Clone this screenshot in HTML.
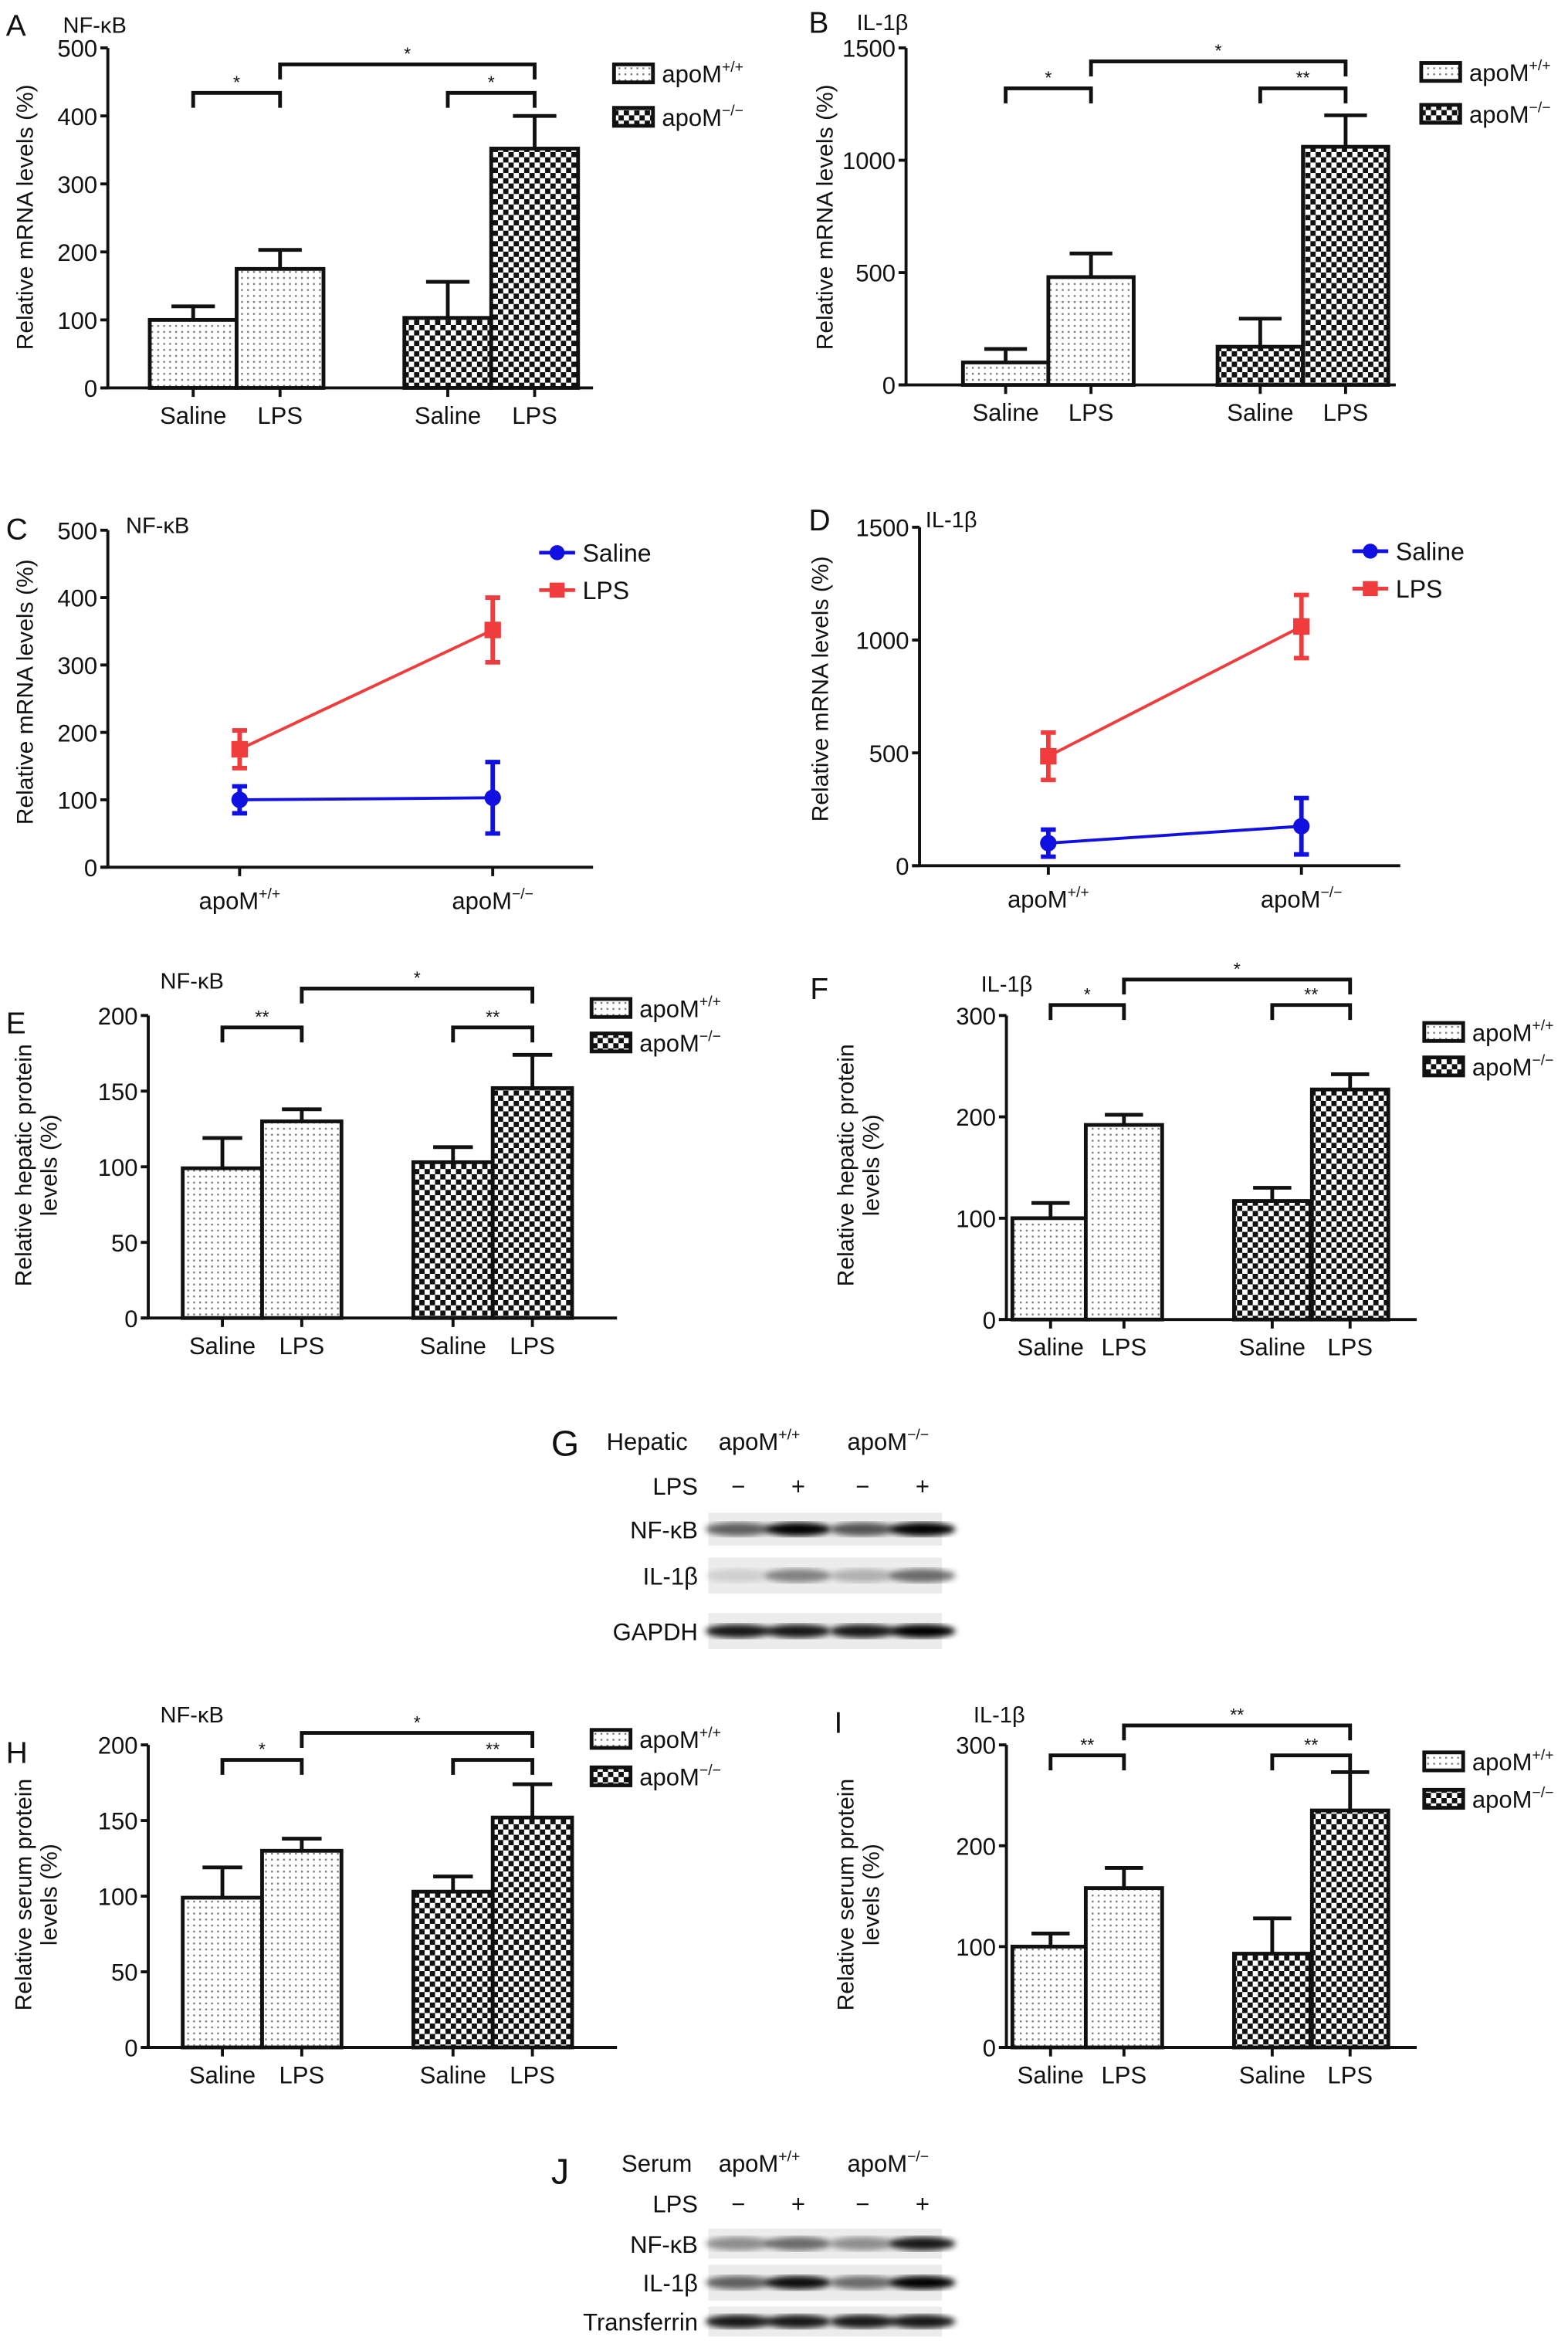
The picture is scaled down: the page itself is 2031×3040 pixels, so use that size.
<!DOCTYPE html>
<html><head><meta charset="utf-8">
<style>
html,body{margin:0;padding:0;background:#fff;}
svg{display:block;}
text{font-family:"Liberation Sans",sans-serif;fill:#111;}
</style></head>
<body>
<svg id="fig" xmlns="http://www.w3.org/2000/svg" width="2031" height="3040" viewBox="0 0 1047 1567" preserveAspectRatio="none">
<defs>
<pattern id="dots" width="4" height="4" patternUnits="userSpaceOnUse"><rect width="4" height="4" fill="#fff"/><rect x="1" y="1" width="1.2" height="1.2" fill="#777"/></pattern>
<pattern id="check" width="7" height="7" patternUnits="userSpaceOnUse"><rect width="7" height="7" fill="#fff"/><rect width="3.5" height="3.5" fill="#111"/><rect x="3.5" y="3.5" width="3.5" height="3.5" fill="#111"/></pattern>
<filter id="blur"><feGaussianBlur stdDeviation="2"/></filter>
</defs>
</svg>
<script>
// ---- data ----
const barCats = ['Saline','LPS','Saline','LPS'];
const valsA = [100,175,103,352]; const errA = [20,28,53,48];
const valsB = [100,480,170,1060]; const errB = [60,105,125,140];
const valsE = [99,130,103,152]; const errE = [20,8,10,22];
const valsF = [100,192,117,227]; const errF = [15,10,13,15];
const valsH = [99,130,103,152]; const errH = [20,8,10,22];
const valsI = [100,158,93,235]; const errI = [13,20,35,38];
const ticksA = [0,100,200,300,400,500];
const ticksB = [0,500,1000,1500];
const ticksE = [0,50,100,150,200];
const ticksF = [0,100,200,300];
const lineCats = ['apoM+/+','apoM−/−'];
const salineC = [100,103]; const salineCErr = [20,53];
const lpsC = [175,352]; const lpsCErr = [28,48];
const salineD = [100,175]; const salineDErr = [60,125];
const lpsD = [485,1060]; const lpsDErr = [105,140];

const NS='http://www.w3.org/2000/svg';
const svg=document.getElementById('fig');
function mk(tag,attrs,parent){const e=document.createElementNS(NS,tag);for(const k in attrs)e.setAttribute(k,attrs[k]);(parent||svg).appendChild(e);return e;}
function txt(x,y,s,size,anchor,parent,extra){const t=mk('text',Object.assign({x:x,y:y,'font-size':size,'text-anchor':anchor||'start'},extra||{}),parent);t.innerHTML=s;return t;}
function sup(base,s){return base+'<tspan dy="-7" font-size="10">'+s+'</tspan>';}

function yAxis(g,c,ticks){
  const sc=v=>c.y0-(v-ticks[0])/(ticks[ticks.length-1]-ticks[0])*(c.y0-c.yTop);
  const ax=mk('line',{x1:c.ax,y1:c.yTop,x2:c.ax,y2:c.y0,stroke:'#111','stroke-width':2},g);
  
  
  const xa=mk('line',{x1:c.ax-5,y1:c.y0,x2:c.xEnd,y2:c.y0,stroke:'#111','stroke-width':2},g);
  
  
  ticks.forEach(v=>{
    mk('line',{x1:c.ax-5,y1:sc(v),x2:c.ax,y2:sc(v),stroke:'#111','stroke-width':2},g);
    const t=txt(c.ax-7,sc(v)+6,String(v),16,'end',g);
    
    
  });
  return sc;
}
function ylabel(g,x,y,lines){
  const t=mk('text',{transform:'translate('+x+','+y+') rotate(-90)','font-size':15.5,'text-anchor':'middle'},g);
  lines.forEach((l,i)=>{const s=mk('tspan',{x:0,dy:i?17:(lines.length>1?-3:0)},t);s.textContent=l;});
  
  
}
function bracket(g,x1,x2,y,star,drop){
  mk('path',{d:'M'+x1+','+(y+drop)+'V'+y+'H'+x2+'V'+(y+drop),fill:'none',stroke:'#111','stroke-width':2.5},g);
  const t=txt((x1+x2)/2,y-3,star,12,'middle',g);
  
  
}
function legendBars(g,x,y1,y2){
  [[y1,'url(#dots)',sup('apoM','+/+')],[y2,'url(#check)',sup('apoM','−/−')]].forEach(([y,f,s])=>{
    const r=mk('rect',{x:x,y:y,width:26,height:12,fill:f,stroke:'#111','stroke-width':2.5},g);
    
    
    const t=txt(x+32,y+12,s,16,'start',g);
    
    
  });
}
function barPanel(c,vals,errs,ticks){
  const g=mk('g',{});
  
  
  txt(c.lx,c.ly,c.letter,20,'start',g);
  txt(c.tx,c.ty,c.title,15,'start',g);
  const sc=yAxis(g,c,ticks);
  vals.forEach((v,i)=>{
    const x=c.bx[i], w=c.bw;
    const cx=x+w/2;
    const eb=mk('path',{d:'M'+cx+','+sc(v)+'V'+sc(v+errs[i])+'M'+(cx-w/4)+','+sc(v+errs[i])+'H'+(cx+w/4),stroke:'#111','stroke-width':2.5,fill:'none'},g);
    
    
    const r=mk('rect',{x:x,y:sc(v),width:w,height:c.y0-sc(v),fill:i<2?'url(#dots)':'url(#check)',stroke:'#111','stroke-width':2.5},g);
    
    
    mk('line',{x1:cx,y1:c.y0,x2:cx,y2:c.y0+6,stroke:'#111','stroke-width':2},g);
    const t=txt(cx,c.y0+24,barCats[i],16,'middle',g);
    
    
  });
  const cxs=c.bx.map(x=>x+c.bw/2);
  bracket(g,cxs[1],cxs[3],c.brTop,c.s[0],10);
  bracket(g,cxs[0],cxs[1],c.brLow,c.s[1],10);
  bracket(g,cxs[2],cxs[3],c.brLow,c.s[2],10);
  legendBars(g,c.legX,c.legY1,c.legY2);
  ylabel(g,c.ylx,c.yly,c.ylab);
}
function linePanel(c,sal,salE,lps,lpsE,ticks){
  const g=mk('g',{});
  
  
  txt(c.lx,c.ly,c.letter,20,'start',g);
  txt(c.tx,c.ty,c.title,15,'start',g);
  const sc=yAxis(g,c,ticks);
  c.px.forEach((x,i)=>{
    mk('line',{x1:x,y1:c.y0,x2:x,y2:c.y0+6,stroke:'#111','stroke-width':2},g);
    const t=txt(x,c.y0+28,sup('apoM',i?'−/−':'+/+'),16,'middle',g);
    
    
  });
  [[sal,salE,'#1010e0','circle','saline'],[lps,lpsE,'#f03c3c','square','lps']].forEach(([vals,errs,col,shape,nm])=>{
    const pl=mk('polyline',{points:vals.map((v,i)=>c.px[i]+','+sc(v)).join(' '),fill:'none',stroke:col,'stroke-width':2},g);
    
    
    vals.forEach((v,i)=>{
      const x=c.px[i];
      const e=mk('path',{d:'M'+x+','+sc(v-errs[i])+'V'+sc(v+errs[i])+'M'+(x-5)+','+sc(v-errs[i])+'H'+(x+5)+'M'+(x-5)+','+sc(v+errs[i])+'H'+(x+5),stroke:col,'stroke-width':3,fill:'none'},g);
      
      
      const m=shape==='circle'?mk('circle',{cx:x,cy:sc(v),r:5.5,fill:col},g):mk('rect',{x:x-5.5,y:sc(v)-5.5,width:11,height:11,fill:col},g);
      
      
    });
  });
  [['Saline','#1010e0','circle',c.legY1],['LPS','#f03c3c','square',c.legY2]].forEach(([s,col,sh,y])=>{
    mk('line',{x1:c.legX,y1:y,x2:c.legX+24,y2:y,stroke:col,'stroke-width':2.5},g);
    if(sh==='circle')mk('circle',{cx:c.legX+12,cy:y,r:5,fill:col},g);else mk('rect',{x:c.legX+7,y:y-5,width:10,height:10,fill:col},g);
    const t=txt(c.legX+29,y+6,s,16.5,'start',g);
    
    
  });
  ylabel(g,c.ylx,c.yly,['Relative mRNA levels (%)']);
}
const bxL=[100,158,270,328], bxR=[643,700,813,870];
barPanel({letter:'A',lx:4,ly:24,title:'NF-κB',tx:42,ty:22,ax:72,yTop:32,y0:259,xEnd:396,bx:bxL,bw:58,brTop:43,brLow:62,s:['*','*','*'],legX:410,legY1:43,legY2:72,ylx:22,yly:145,ylab:['Relative mRNA levels (%)']},valsA,errA,ticksA);
barPanel({letter:'B',lx:540,ly:22,title:'IL-1β',tx:572,ty:20,ax:605,yTop:32,y0:257,xEnd:932,bx:bxR,bw:57,brTop:41,brLow:59,s:['*','*','**'],legX:949,legY1:42,legY2:70,ylx:556,yly:145,ylab:['Relative mRNA levels (%)']},valsB,errB,ticksB);
linePanel({letter:'C',lx:4,ly:360,title:'NF-κB',tx:84,ty:356,ax:72,yTop:354,y0:579,xEnd:396,px:[160,329],legX:360,legY1:369,legY2:394,ylx:22,yly:462},salineC,salineCErr,lpsC,lpsCErr,ticksA);
linePanel({letter:'D',lx:540,ly:354,title:'IL-1β',tx:618,ty:352,ax:614,yTop:352,y0:578,xEnd:935,px:[700,869],legX:903,legY1:368,legY2:393,ylx:553,yly:460},salineD,salineDErr,lpsD,lpsDErr,ticksB);
const bxE=[122,175,276,329], bxF=[676,725,824,876];
barPanel({letter:'E',lx:4,ly:690,title:'NF-κB',tx:107,ty:660,ax:99,yTop:678,y0:880,xEnd:412,bx:bxE,bw:53,brTop:660,brLow:686,s:['*','**','**'],legX:395,legY1:667,legY2:690,ylx:24,yly:778,ylab:['Relative hepatic protein','levels (%)']},valsE,errE,ticksE);
barPanel({letter:'F',lx:541,ly:667,title:'IL-1β',tx:655,ty:662,ax:672,yTop:678,y0:881,xEnd:946,bx:bxF,bw:51,brTop:654,brLow:671,s:['*','*','**'],legX:951,legY1:683,legY2:706,ylx:573,yly:778,ylab:['Relative hepatic protein','levels (%)']},valsF,errF,ticksF);
barPanel({letter:'H',lx:4,ly:1177,title:'NF-κB',tx:107,ty:1150,ax:99,yTop:1165,y0:1367,xEnd:412,bx:bxE,bw:53,brTop:1157,brLow:1175,s:['*','*','**'],legX:395,legY1:1155,legY2:1180,ylx:24,yly:1265,ylab:['Relative serum protein','levels (%)']},valsH,errH,ticksE);
barPanel({letter:'I',lx:557,ly:1157,title:'IL-1β',tx:650,ty:1150,ax:672,yTop:1165,y0:1367,xEnd:946,bx:bxF,bw:51,brTop:1152,brLow:1172,s:['**','**','**'],legX:951,legY1:1170,legY2:1195,ylx:573,yly:1265,ylab:['Relative serum protein','levels (%)']},valsI,errI,ticksF);

// western blots
const blotLanes=[493,533,576,616];
const blotG=[0.6,1.0,0.65,1.0], blotGil=[0.12,0.45,0.25,0.55], blotGgap=[0.9,0.9,0.9,1.0];
const blotJn=[0.4,0.55,0.4,0.9], blotJil=[0.6,0.95,0.55,1.0], blotJtf=[0.9,0.9,0.9,0.9];
function blot(c,rows){
  const g=mk('g',{});
  
  
  txt(c.lx,c.ly,c.letter,24,'start',g);
  txt(c.hx,c.hy,c.head,16,'start',g);
  txt(507,c.hy,sup('apoM','+/+'),16,'middle',g);
  txt(593,c.hy,sup('apoM','−/−'),16,'middle',g);
  txt(466,c.lpsY,'LPS',16,'end',g);
  ['−','+','−','+'].forEach((s,i)=>txt(blotLanes[i],c.lpsY,s,16,'middle',g));
  rows.forEach(([name,y,h,ints])=>{
    const r=mk('rect',{x:473,y:y-h/2,width:156,height:h,fill:'#ececec'},g);
    
    
    ints.forEach((v,i)=>{
      const b=mk('ellipse',{cx:blotLanes[i],cy:y,rx:22,ry:4.5,fill:'#000','fill-opacity':v,filter:'url(#blur)'},g);
      
      
    });
    txt(466,y+6,name,16,'end',g);
  });
}
blot({letter:'G',lx:368,ly:972,head:'Hepatic',hx:405,hy:968,lpsY:998},[['NF-κB',1021,22,blotG],['IL-1β',1052,24,blotGil],['GAPDH',1089,24,blotGgap]]);
blot({letter:'J',lx:368,ly:1458,head:'Serum',hx:415,hy:1450,lpsY:1477},[['NF-κB',1498,20,blotJn],['IL-1β',1524,24,blotJil],['Transferrin',1550,20,blotJtf]]);
</script>
</body></html>
